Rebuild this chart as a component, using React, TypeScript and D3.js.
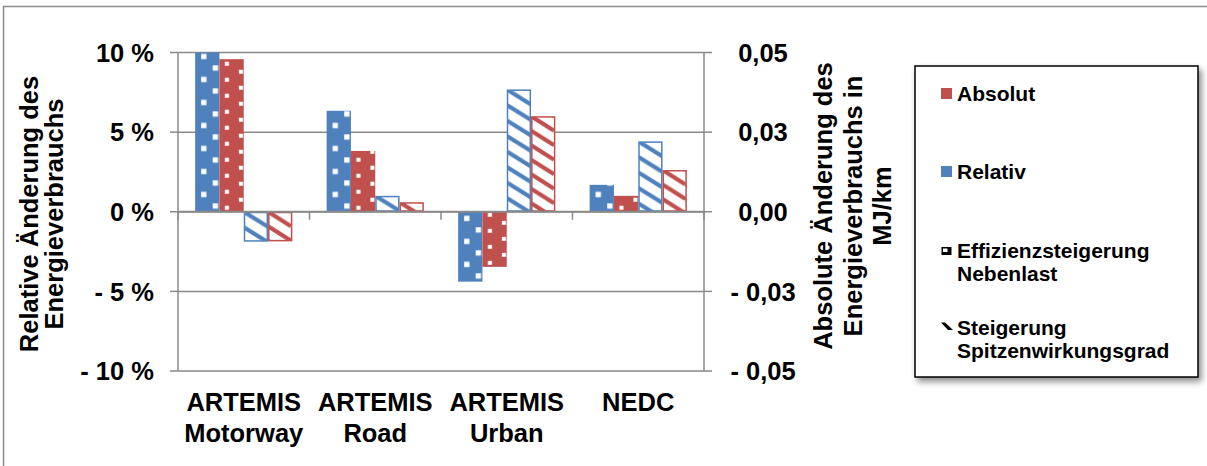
import React from "react";
import * as d3 from "d3";

const categories: string[][] = [["ARTEMIS", "Motorway"], ["ARTEMIS", "Road"], ["ARTEMIS", "Urban"], ["NEDC"]];
// Effizienzsteigerung Nebenlast (dotted bars)
const relNebenlast = [10.0, 6.34, -4.39, 1.69]; // % (left axis, blue)
const absNebenlast = [0.0479, 0.0191, -0.0173, 0.005]; // MJ/km (right axis, red)
// Steigerung Spitzenwirkungsgrad (hatched bars)
const relSpitzen = [-1.88, 1.0, 7.68, 4.42]; // %
const absSpitzen = [-0.0093, 0.003, 0.03, 0.0131]; // MJ/km

const leftTicks = [10, 5, 0, -5, -10];
const leftTickLabels = ["10 %", "5 %", "0 %", "- 5 %", "- 10 %"];
const rightTicks = [0.05, 0.025, 0, -0.025, -0.05];
const rightTickLabels = ["0,05", "0,03", "0,00", "- 0,03", "- 0,05"];

const leftTitle = ["Relative Änderung des", "Energieverbrauchs"];
const rightTitle = ["Absolute Änderung des", "Energieverbrauchs in", "MJ/km"];
const legendLabels: string[][] = [["Absolut"], ["Relativ"], ["Effizienzsteigerung", "Nebenlast"], ["Steigerung", "Spitzenwirkungsgrad"]];

const BLUE = "#4F81BD";
const RED = "#C0504D";
const GRID = "#8a8a8a";
const FONT = "'Liberation Sans', Arial, sans-serif";

export default function App() {
  const W = 1207, H = 466;
  const plotL = 178, plotR = 704, yTop = 52.5, yBot = 371;
  const yL = d3.scaleLinear().domain([-10, 10]).range([yBot, yTop]);
  const yR = d3.scaleLinear().domain([-0.05, 0.05]).range([yBot, yTop]);
  const x0 = d3.scaleBand<number>().domain(d3.range(categories.length)).range([plotL, plotR]).padding(0);
  const x1 = d3.scaleBand<number>().domain(d3.range(4)).range([0, x0.bandwidth()]).paddingInner(0).paddingOuter(0.705);

  const series = [
    { vals: relNebenlast, scale: yL, color: BLUE, kind: "dots" },
    { vals: absNebenlast, scale: yR, color: RED, kind: "dots" },
    { vals: relSpitzen, scale: yL, color: BLUE, kind: "hatch" },
    { vals: absSpitzen, scale: yR, color: RED, kind: "hatch" },
  ];

  const y0 = yL(0);
  const legendBase = [100.5, 178.5, 258.3, 335];
  const bw = x1.bandwidth();

  const bars = categories.flatMap((_, ci) =>
    series.map((s, si) => {
      const v = s.vals[ci];
      const yv = s.scale(v);
      const top = Math.min(yv, y0);
      const bottom = Math.max(yv, y0);
      const x = (x0(ci) as number) + (x1(si) as number);
      return { ci, si, s, x, top, bottom, h: bottom - top, id: `p${ci}_${si}` };
    })
  );

  return (
    <svg width={W} height={H} style={{ position: "absolute", left: 0, top: 0 }} fontFamily={FONT} fontWeight="bold">
      <defs>
        {bars.map((b) => {
          if (b.s.kind === "dots" && b.s.color === BLUE) {
            return (
              <pattern key={b.id} id={b.id} patternUnits="userSpaceOnUse" width={bw} height={23}
                x={b.x} y={b.bottom - 8.4}>
                <rect width={bw} height={23} fill={BLUE} />
                <rect x={17.6} y={0} width={5.3} height={5.3} fill="#fff" />
                <rect x={6} y={11.5} width={5.3} height={5.3} fill="#fff" />
              </pattern>
            );
          }
          if (b.s.kind === "dots") {
            return (
              <pattern key={b.id} id={b.id} patternUnits="userSpaceOnUse" width={bw} height={16}
                x={b.x} y={b.bottom - 6}>
                <rect width={bw} height={16} fill={RED} />
                <rect x={5.5} y={0} width={4} height={4} fill="#fff" />
                <rect x={19.5} y={8} width={4} height={4} fill="#fff" />
              </pattern>
            );
          }
          const col = b.s.color;
          const pw = col === BLUE ? 25 : 23;
          const ph = col === BLUE ? 15.5 : 14.5;
          return (
            <pattern key={b.id} id={b.id} patternUnits="userSpaceOnUse" width={pw} height={ph} x={b.x} y={b.top}>
              <rect width={pw} height={ph} fill="#fff" />
              <path d={`M0,${-ph} L${pw},0 M0,0 L${pw},${ph} M0,${ph} L${pw},${2 * ph}`} stroke={col} strokeWidth={4.2} />
            </pattern>
          );
        })}
        <filter id="shadow" x="-10%" y="-10%" width="130%" height="130%">
          <feDropShadow dx={3} dy={4} stdDeviation={3} floodColor="#000" floodOpacity={0.45} />
        </filter>
      </defs>

      <rect x={0} y={0} width={W} height={H} fill="#fff" />
      {/* outer chart frame */}
      <rect x={3.5} y={6.5} width={W + 20} height={H + 20} fill="none" stroke={GRID} strokeWidth={1.5} />

      {/* gridlines */}
      {leftTicks.map((t, i) => (
        <line key={"g" + i} x1={plotL} x2={plotR} y1={yL(t)} y2={yL(t)} stroke={GRID} strokeWidth={1.5} />
      ))}

      {/* bars */}
      {bars.map((b) =>
        b.s.kind === "dots" ? (
          <rect key={b.id} x={b.x} y={b.top} width={bw} height={b.h} fill={`url(#${b.id})`} />
        ) : (
          <rect key={b.id} x={b.x + 0.75} y={b.top + 0.75} width={bw - 1.5} height={Math.max(0, b.h - 1.5)}
            fill={`url(#${b.id})`} stroke={b.s.color} strokeWidth={1.5} />
        )
      )}

      {/* zero axis */}
      <line x1={plotL} x2={plotR} y1={y0} y2={y0} stroke={GRID} strokeWidth={1.8} />
      {d3.range(categories.length + 1).map((i) => {
        const x = i < categories.length ? (x0(i) as number) : plotR;
        return <line key={"ct" + i} x1={x} x2={x} y1={y0} y2={y0 + 8} stroke={GRID} strokeWidth={1.5} />;
      })}

      {/* left axis */}
      <line x1={plotL} x2={plotL} y1={yTop} y2={yBot} stroke={GRID} strokeWidth={1.5} />
      {leftTicks.map((t, i) => (
        <g key={"lt" + i}>
          <line x1={plotL - 8} x2={plotL} y1={yL(t)} y2={yL(t)} stroke={GRID} strokeWidth={1.5} />
          <text x={154} y={yL(t)} dy="0.36em" textAnchor="end" fontSize={25.5} fill="#000">{leftTickLabels[i]}</text>
        </g>
      ))}

      {/* right axis */}
      <line x1={plotR} x2={plotR} y1={yTop} y2={yBot} stroke={GRID} strokeWidth={1.5} />
      {rightTicks.map((t, i) => (
        <g key={"rt" + i}>
          <line x1={plotR} x2={plotR + 8} y1={yR(t)} y2={yR(t)} stroke={GRID} strokeWidth={1.5} />
          <text x={763} y={yR(t)} dy="0.36em" textAnchor="middle" fontSize={25.5} fill="#000">{rightTickLabels[i]}</text>
        </g>
      ))}

      {/* category labels */}
      {categories.map((c, ci) => {
        const cx = (x0(ci) as number) + x0.bandwidth() / 2;
        return (
          <text key={"cat" + ci} x={cx} y={410.7} textAnchor="middle" fontSize={25.5} fill="#000">
            {c.map((line, li) => (
              <tspan key={li} x={cx} dy={li === 0 ? 0 : 31}>{line}</tspan>
            ))}
          </text>
        );
      })}

      {/* left title */}
      <text transform="translate(38,214) rotate(-90)" textAnchor="middle" fontSize={25.5} fill="#000">
        {leftTitle.map((line, i) => (
          <tspan key={i} x={0} dy={i === 0 ? 0 : 25}>{line}</tspan>
        ))}
      </text>

      {/* right title */}
      <text transform="translate(832,206) rotate(-90)" textAnchor="middle" fontSize={25.5} fill="#000">
        {rightTitle.map((line, i) => (
          <tspan key={i} x={0} dy={i === 0 ? 0 : 29.5}>{line}</tspan>
        ))}
      </text>

      {/* legend */}
      <rect x={915} y={66} width={283} height={311} fill="#fff" stroke="#000" strokeWidth={1.5} filter="url(#shadow)" />
      <rect x={941} y={88} width={11} height={11} fill={RED} />
      <rect x={941} y={166} width={11} height={11} fill={BLUE} />
      <g>
        <rect x={941.5} y={247} width={10} height={8} fill="#000" />
        <rect x={943} y={248.5} width={4.5} height={3.5} fill="#fff" />
      </g>
      <g>
        <path d="M941,322.5 L945,322.5 L953,330 L948,330 Z" fill="#000" />
      </g>
      {legendLabels.map((lines, i) => (
        <text key={"lg" + i} x={957} y={legendBase[i]} fontSize={21} fill="#000">
          {lines.map((line, li) => (
            <tspan key={li} x={957} dy={li === 0 ? 0 : 22.5}>{line}</tspan>
          ))}
        </text>
      ))}
    </svg>
  );
}
